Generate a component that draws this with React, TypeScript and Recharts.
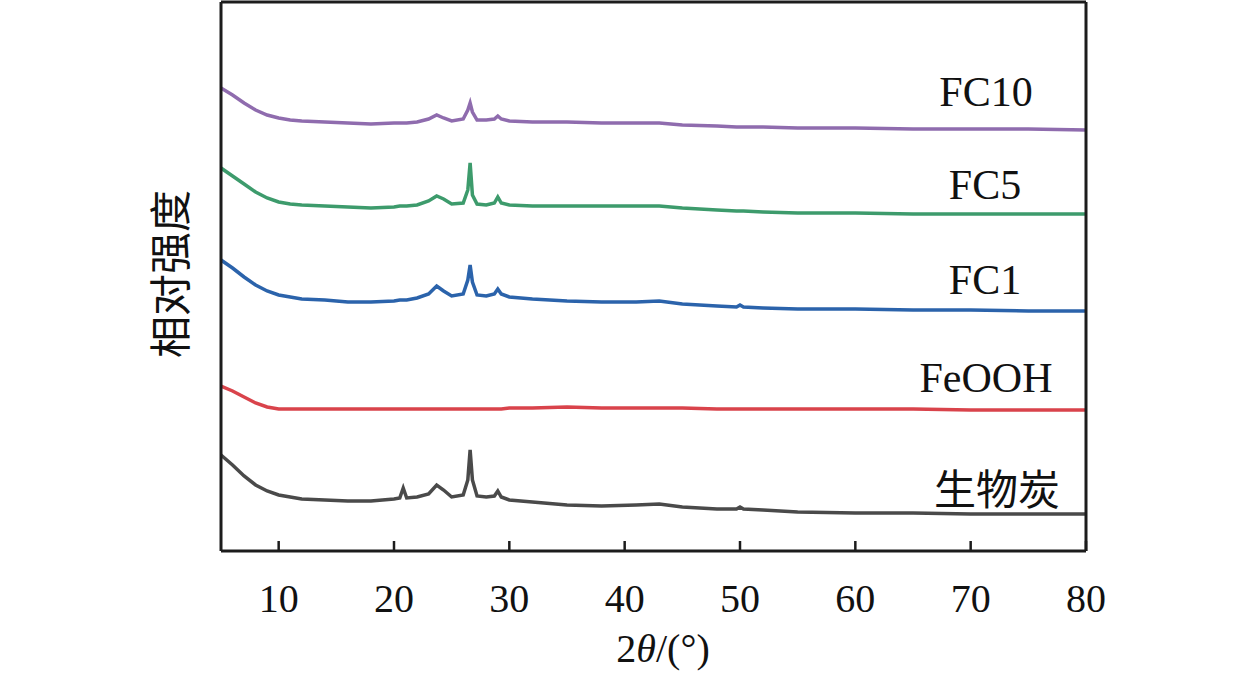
import { LineChart, Line, XAxis, YAxis, ReferenceLine } from "recharts";

// 2θ positions (degrees)
const twoTheta = [5, 6, 7, 8, 9, 10, 11, 12, 14, 16, 18, 20, 20.5, 20.8, 21.1, 22, 23, 23.7, 24.3, 25, 26, 26.4, 26.6, 26.8, 27.2, 28, 28.7, 29, 29.3, 30, 32, 35, 38, 41, 43, 45, 48, 49.7, 50, 50.3, 52, 55, 60, 65, 70, 75, 80];

// relative intensity (stacked, arbitrary units)
const biochar = [96, 86, 75, 66, 60, 56, 54, 52, 51, 50, 50, 52, 53, 63, 53, 54, 57, 66, 61, 54, 56, 71, 101, 71, 55, 54, 55, 60, 54, 51, 49, 46, 45, 46, 47, 44, 42, 42, 44, 42, 41, 39, 38, 38, 37, 37, 37];
const feooh = [165, 160, 154, 148, 144, 142, 142, 142, 142, 142, 142, 142, 142, 142, 142, 142, 142, 142, 142, 142, 142, 142, 142, 142, 142, 142, 142, 142, 142, 143, 143, 144, 143, 143, 143, 143, 142, 142, 142, 142, 142, 142, 142, 142, 141, 141, 141];
const fc1 = [291, 283, 274, 266, 260, 256, 254, 252, 251, 249, 249, 250, 251, 251, 251, 253, 257, 265, 260, 255, 257, 271, 286, 269, 256, 255, 257, 262, 257, 254, 252, 250, 249, 249, 250, 247, 245, 244, 246, 244, 243, 242, 242, 241, 241, 240, 240];
const fc5 = [383, 375, 367, 359, 353, 349, 347, 346, 345, 344, 343, 344, 345, 345, 345, 346, 350, 355, 352, 347, 348, 361, 388, 356, 347, 346, 348, 354, 348, 346, 345, 345, 345, 345, 345, 343, 341, 340, 340, 340, 339, 338, 338, 337, 337, 337, 337];
const fc10 = [463, 456, 448, 441, 436, 433, 431, 430, 429, 428, 427, 428, 428, 428, 428, 429, 432, 436, 433, 430, 432, 441, 448, 439, 431, 431, 432, 435, 432, 430, 429, 429, 428, 428, 428, 426, 425, 424, 424, 424, 424, 423, 423, 422, 422, 422, 421];

const xTicks = [10, 20, 30, 40, 50, 60, 70, 80];

const seriesNames = ["FC10", "FC5", "FC1", "FeOOH", "生物炭"];

const data = twoTheta.map((x, i) => ({
  x,
  biochar: biochar[i],
  feooh: feooh[i],
  fc1: fc1[i],
  fc5: fc5[i],
  fc10: fc10[i],
}));

const serif = "'Liberation Serif', 'Times New Roman', 'Noto Sans CJK SC', serif";
const ink = "#1c1c1c";

function XTick(props: any) {
  const { x, y, payload } = props;
  return (
    <g>
      <line x1={x} x2={x} y1={y} y2={y - 10} stroke={ink} strokeWidth={2.5} />
      <text x={x} y={y + 61} textAnchor="middle" fontSize={40} fontFamily={serif} fill="#111">
        {payload.value}
      </text>
    </g>
  );
}

export default function App() {
  return (
    <div style={{ position: "absolute", left: 0, top: 0, width: 1259, height: 676, background: "#fff" }}>
      <LineChart
        width={1259}
        height={676}
        data={data}
        margin={{ top: 2, right: 173, left: 221, bottom: 0 }}
      >
        <XAxis
          type="number"
          dataKey="x"
          domain={[5, 80]}
          ticks={xTicks}
          allowDataOverflow
          height={125}
          tickSize={0}
          tickMargin={0}
          tickLine={false}
          tick={<XTick />}
          axisLine={{ stroke: ink, strokeWidth: 3 }}
        />
        <YAxis type="number" domain={[0, 549]} hide allowDataOverflow />
        <Line type="linear" dataKey="biochar" stroke="#4a4a4a" strokeWidth={3.5} dot={false} isAnimationActive={false} />
        <Line type="linear" dataKey="feooh" stroke="#d9434b" strokeWidth={3.5} dot={false} isAnimationActive={false} />
        <Line type="linear" dataKey="fc1" stroke="#2b63ab" strokeWidth={3.5} dot={false} isAnimationActive={false} />
        <Line type="linear" dataKey="fc5" stroke="#3d9b6c" strokeWidth={3.5} dot={false} isAnimationActive={false} />
        <Line type="linear" dataKey="fc10" stroke="#8f6cae" strokeWidth={3.5} dot={false} isAnimationActive={false} />
        <ReferenceLine x={5} stroke={ink} strokeWidth={3} />
        <ReferenceLine x={80} stroke={ink} strokeWidth={3} />
        <ReferenceLine y={549} stroke={ink} strokeWidth={3} />
      </LineChart>
      <svg
        width={1259}
        height={676}
        style={{ position: "absolute", left: 0, top: 0, pointerEvents: "none" }}
      >
        <text x={986} y={106} textAnchor="middle" fontSize={42} fontFamily={serif} fill="#111">{seriesNames[0]}</text>
        <text x={985} y={199} textAnchor="middle" fontSize={42} fontFamily={serif} fill="#111">{seriesNames[1]}</text>
        <text x={985} y={294} textAnchor="middle" fontSize={42} fontFamily={serif} fill="#111">{seriesNames[2]}</text>
        <text x={986} y={392} textAnchor="middle" fontSize={42} fontFamily={serif} fill="#111">{seriesNames[3]}</text>
        <text x={997} y={505} textAnchor="middle" fontSize={42} fontFamily={serif} fill="#111">{seriesNames[4]}</text>
        <text
          transform="translate(172,274) rotate(-90)"
          textAnchor="middle"
          dominantBaseline="central"
          fontSize={42}
          fontFamily={serif}
          fill="#111"
        >
          相对强度
        </text>
        <text x={663} y={662} textAnchor="middle" fontSize={40} fontFamily={serif} fill="#111">
          2<tspan fontStyle="italic">θ</tspan>/(°)
        </text>
      </svg>
    </div>
  );
}
